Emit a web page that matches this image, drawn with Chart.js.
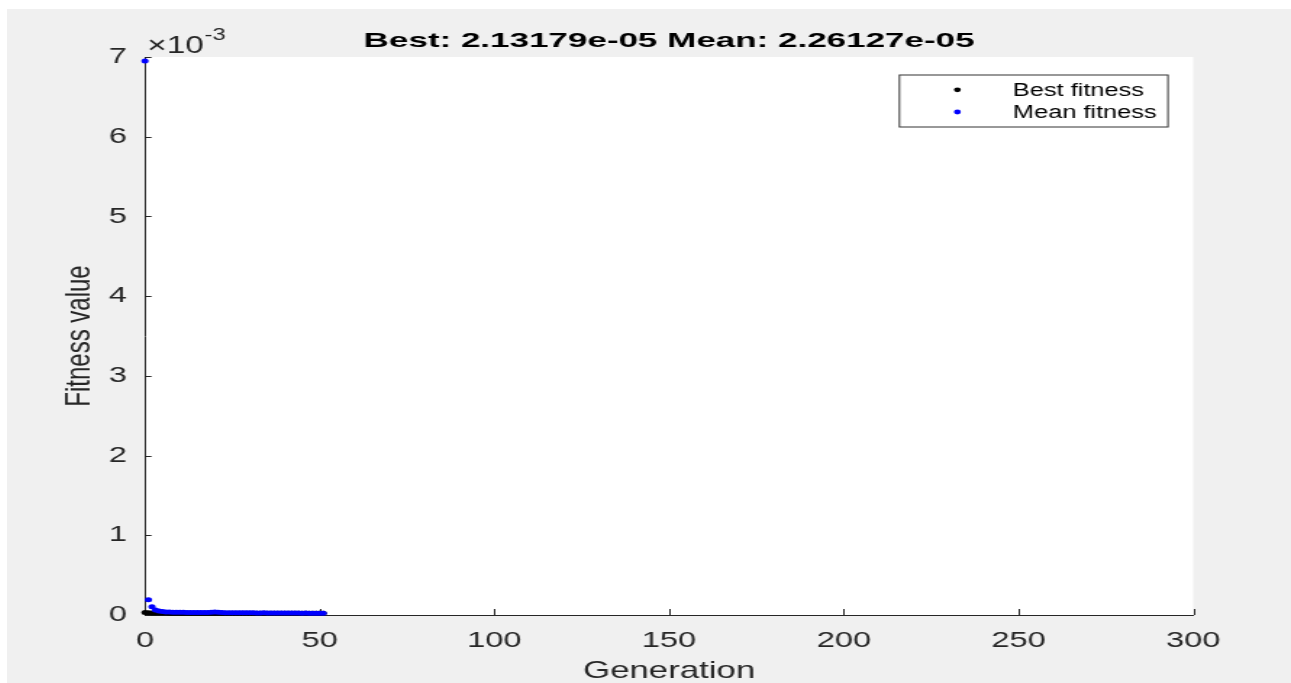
<!DOCTYPE html>
<html>
<head>
<meta charset="utf-8">
<title>Best and mean fitness per generation</title>
<script src="https://cdn.jsdelivr.net/npm/chart.js@4.4.1/dist/chart.umd.min.js"></script>
<style>
  html, body { margin: 0; padding: 0; background: #ffffff; width: 1291px; height: 683px; overflow: hidden; }
  #fig { position: absolute; left: 7px; top: 9px; width: 1284px; height: 674px; background: #f0f0f0; }
  #c { display: block; width: 1284px !important; height: 674px !important; }
</style>
</head>
<body>
<div id="fig"><canvas id="c" width="886" height="674" style="width:1284px;height:674px"></canvas></div>
<script>
// Generation index of every recorded population
const generations = [
  0, 1, 2, 3, 4, 5, 6, 7, 8, 9,
  10, 11, 12, 13, 14, 15, 16, 17, 18, 19,
  20, 21, 22, 23, 24, 25, 26, 27, 28, 29,
  30, 31, 32, 33, 34, 35, 36, 37, 38, 39,
  40, 41, 42, 43, 44, 45, 46, 47, 48, 49,
  50, 51
];

// Best individual fitness per generation
const bestFitness = [
  3.0e-5, 2.8e-5, 2.6e-5, 2.5e-5, 2.45e-5, 2.4e-5, 2.38e-5, 2.35e-5, 2.33e-5, 2.3e-5,
  2.3e-5, 2.28e-5, 2.26e-5, 2.25e-5, 2.24e-5, 2.23e-5, 2.22e-5, 2.22e-5, 2.21e-5, 2.2e-5,
  2.2e-5, 2.19e-5, 2.19e-5, 2.18e-5, 2.18e-5, 2.17e-5, 2.17e-5, 2.17e-5, 2.16e-5, 2.16e-5,
  2.16e-5, 2.15e-5, 2.15e-5, 2.15e-5, 2.15e-5, 2.14e-5, 2.14e-5, 2.14e-5, 2.14e-5, 2.14e-5,
  2.14e-5, 2.135e-5, 2.135e-5, 2.135e-5, 2.135e-5, 2.133e-5, 2.133e-5, 2.132e-5, 2.132e-5, 2.132e-5,
  2.132e-5, 2.13179e-5
];

// Population mean fitness per generation
const meanFitness = [
  6.95e-3, 1.9e-4, 1.05e-4, 6.2e-5, 4.9e-5, 4.3e-5, 3.9e-5, 3.7e-5, 3.5e-5, 3.4e-5,
  3.3e-5, 3.3e-5, 3.2e-5, 3.1e-5, 3.1e-5, 3.0e-5, 3.0e-5, 3.1e-5, 3.2e-5, 3.4e-5,
  3.7e-5, 3.5e-5, 3.1e-5, 2.9e-5, 2.9e-5, 2.8e-5, 2.9e-5, 2.8e-5, 2.7e-5, 2.7e-5,
  2.8e-5, 2.7e-5, 2.6e-5, 2.6e-5, 2.7e-5, 2.6e-5, 2.5e-5, 2.6e-5, 2.5e-5, 2.5e-5,
  2.4e-5, 2.5e-5, 2.4e-5, 2.4e-5, 2.4e-5, 2.3e-5, 2.4e-5, 2.3e-5, 2.3e-5, 2.3e-5,
  2.3e-5, 2.26127e-5
];

// Axis ticks
const xTickValues = [0, 50, 100, 150, 200, 250, 300];
const xTickLabels = ['0', '50', '100', '150', '200', '250', '300'];
const yTickValues = [0, 0.001, 0.002, 0.003, 0.004, 0.005, 0.006, 0.007];
const yTickLabels = ['0', '1', '2', '3', '4', '5', '6', '7'];
const yExponentBase = '\u00d710';
const yExponent = '-3';

const seriesNames = ['Best fitness', 'Mean fitness'];
const seriesColors = ['#000000', '#0000ff'];

const FONT = '"Liberation Sans", Arial, Helvetica, sans-serif';
const TEXT_COLOR = '#262626';
const AXIS_COLOR = '#262626';

// %g-style number with a two-digit exponent, e.g. 2.13179e-05
function fmtG(v) {
  const s = v.toExponential(5);
  const [m, e] = s.split('e');
  const sign = e[0] === '-' ? '-' : '+';
  const digits = e.replace(/^[+-]/, '').padStart(2, '0');
  return m + 'e' + sign + digits;
}
const titleText = 'Best: ' + fmtG(bestFitness[bestFitness.length - 1]) +
                  ' Mean: ' + fmtG(meanFitness[meanFitness.length - 1]);

const toPoints = (vals) => generations.map((g, i) => ({ x: g, y: vals[i] }));

// White axes background inside the grey figure
const axesBackground = {
  id: 'axesBackground',
  beforeDraw(chart) {
    const { ctx, chartArea: a } = chart;
    ctx.save();
    ctx.fillStyle = '#ffffff';
    ctx.fillRect(a.left, a.top, a.right - a.left, a.bottom - a.top);
    ctx.restore();
  }
};

// Tick marks pointing into the axes
const inwardTicks = {
  id: 'inwardTicks',
  beforeDatasetsDraw(chart) {
    const { ctx, chartArea: a, scales } = chart;
    ctx.save();
    ctx.strokeStyle = AXIS_COLOR;
    ctx.lineWidth = 1;
    ctx.beginPath();
    scales.x.ticks.forEach(t => {
      const px = Math.round(scales.x.getPixelForValue(t.value)) + 0.5;
      ctx.moveTo(px, a.bottom);
      ctx.lineTo(px, a.bottom - 6);
    });
    scales.y.ticks.forEach(t => {
      const py = Math.round(scales.y.getPixelForValue(t.value)) + 0.5;
      ctx.moveTo(a.left, py);
      ctx.lineTo(a.left + 4.5, py);
    });
    ctx.stroke();
    ctx.restore();
  }
};

// Title, exponent label and boxed legend
const annotations = {
  id: 'annotations',
  afterDraw(chart) {
    const { ctx, chartArea: a } = chart;
    ctx.save();

    // title
    ctx.font = 'bold 21px ' + FONT;
    ctx.fillStyle = '#000000';
    ctx.textAlign = 'center';
    ctx.textBaseline = 'alphabetic';
    ctx.save();
    ctx.translate((a.left + a.right) / 2, 38.3);
    ctx.scale(1.15, 1);
    ctx.fillText(titleText, 0, 0);
    ctx.restore();

    // y exponent
    ctx.fillStyle = TEXT_COLOR;
    ctx.textAlign = 'left';
    ctx.font = '23px ' + FONT;
    const ex = a.left + 1.5;
    ctx.fillText(yExponentBase, ex, 43.5);
    const w = ctx.measureText(yExponentBase).width;
    ctx.font = '16.5px ' + FONT;
    ctx.fillText(yExponent, ex + w + 0.5, 31);

    // legend
    const bx = 615.3, by = 65.5, bw = 185.3, bh = 52;
    ctx.fillStyle = '#ffffff';
    ctx.fillRect(bx, by, bw, bh);
    ctx.strokeStyle = '#333333';
    ctx.lineWidth = 1;
    ctx.strokeRect(bx + 0.5, by + 0.5, bw, bh);
    ctx.font = '17.5px ' + FONT;
    ctx.textBaseline = 'middle';
    chart.data.datasets.slice().sort((p, q) => seriesNames.indexOf(p.label) - seriesNames.indexOf(q.label))
      .forEach((ds, i) => {
        const yy = 81.8 + i * 22.2;
        ctx.fillStyle = ds.backgroundColor;
        ctx.beginPath();
        ctx.arc(655.8, yy - 1, 2.4, 0, Math.PI * 2);
        ctx.fill();
        ctx.fillStyle = '#000000';
        ctx.fillText(ds.label, 694.1, yy);
      });
    ctx.restore();
  }
};

new Chart(document.getElementById('c'), {
  type: 'scatter',
  data: {
    datasets: [
      {
        label: seriesNames[0],
        data: toPoints(bestFitness),
        backgroundColor: seriesColors[0],
        borderColor: seriesColors[0],
        pointRadius: 2.5,
        pointBorderWidth: 0,
        order: 1,
        clip: false
      },
      {
        label: seriesNames[1],
        data: toPoints(meanFitness),
        backgroundColor: seriesColors[1],
        borderColor: seriesColors[1],
        pointRadius: 2.5,
        pointBorderWidth: 0,
        order: 0,
        clip: false
      }
    ]
  },
  options: {
    responsive: false,
    devicePixelRatio: 1,
    animation: false,
    events: [],
    layout: { padding: { left: 0, right: 67.5, top: 48, bottom: 0 } },
    plugins: {
      legend: { display: false },
      title: { display: false },
      tooltip: { enabled: false }
    },
    scales: {
      x: {
        type: 'linear',
        min: 0,
        max: 300,
        afterBuildTicks(scale) { scale.ticks = xTickValues.map(v => ({ value: v })); },
        afterFit(scale) { scale.height = 68; },
        grid: { display: false, drawTicks: false },
        border: { display: true, color: AXIS_COLOR, width: 1 },
        ticks: {
          padding: 12,
          maxRotation: 0,
          autoSkip: false,
          color: TEXT_COLOR,
          font: { family: FONT, size: 22.5 },
          callback: (v, i) => xTickLabels[i]
        },
        title: {
          display: true,
          text: 'Generation',
          color: TEXT_COLOR,
          font: { family: FONT, size: 24, lineHeight: 0.96 },
          padding: 0
        }
      },
      y: {
        type: 'linear',
        min: 0,
        max: 0.007,
        afterBuildTicks(scale) { scale.ticks = yTickValues.map(v => ({ value: v })); },
        afterFit(scale) { scale.width = 95.2; },
        grid: { display: false, drawTicks: false },
        border: { display: true, color: AXIS_COLOR, width: 1 },
        ticks: {
          padding: 12.4,
          autoSkip: false,
          color: TEXT_COLOR,
          font: { family: FONT, size: 22.5 },
          callback: (v, i) => yTickLabels[i]
        },
        title: {
          display: true,
          text: 'Fitness value',
          color: TEXT_COLOR,
          font: { family: FONT, size: 24 },
          padding: { top: 36.3, bottom: 0 }
        }
      }
    }
  },
  plugins: [axesBackground, inwardTicks, annotations]
});
</script>
</body>
</html>
